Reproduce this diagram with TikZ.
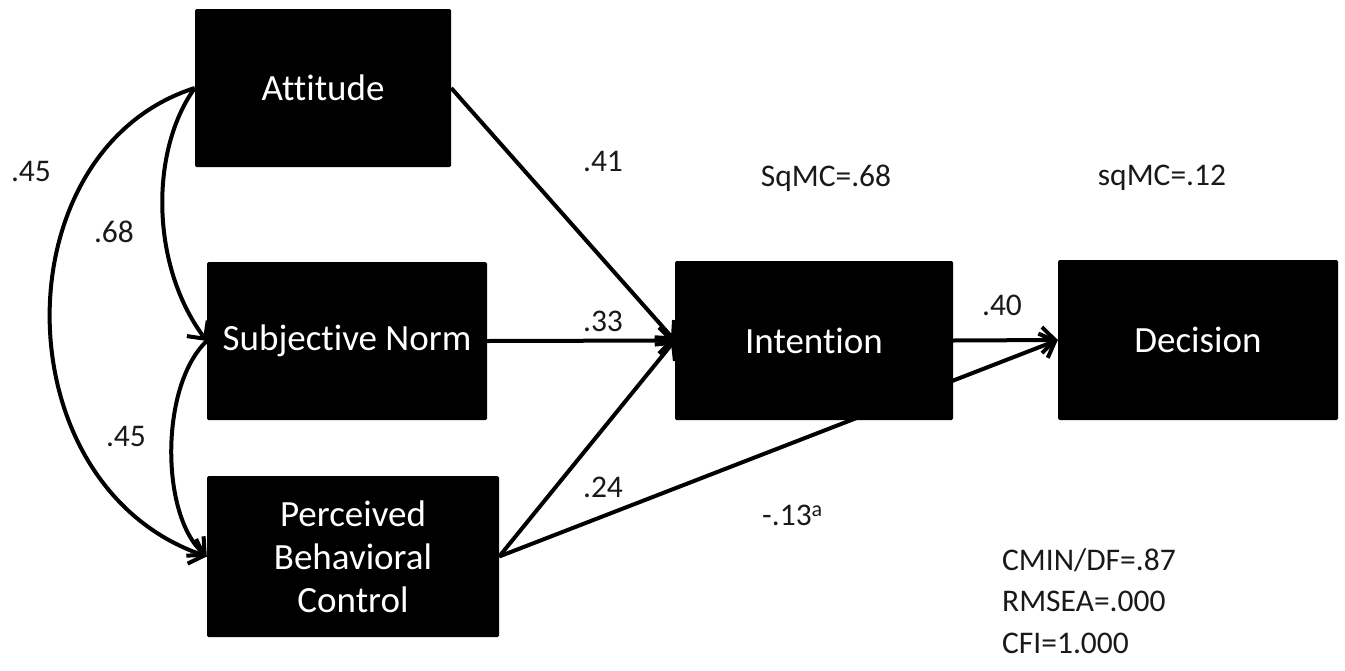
\documentclass[tikz,border=0pt]{standalone}
\usepackage{fontspec}
\setmainfont[Ligatures={NoCommon}]{Carlito}
\usetikzlibrary{arrows.meta,backgrounds}
\begin{document}
\begin{tikzpicture}[x=1pt,y=-1pt,
  box/.style={fill=black,draw=none,rounded corners=1.5pt,text=white,align=center,
    font=\fontsize{37}{43}\selectfont,inner sep=0pt},
  lbl/.style={font=\fontsize{31.5}{38}\selectfont,text=black!90,inner sep=0pt},
  tip/.style={-{Straight Barb[length=13pt,width=26pt,line width=4pt]}},
  path/.style={line width=4pt,tip},
  cor/.style={line width=4pt},
]
\useasboundingbox (0,0) rectangle (1345,670);
\node[box,minimum width=256pt,minimum height=158pt] (att) at (323,88) {Attitude};
\node[box,minimum width=280pt,minimum height=158pt] (sn) at (347,341) {Subjective Norm};
\node[box,minimum width=292pt,minimum height=161pt] (pbc) at (353,556.5) {Perceived\\Behavioral\\Control};
\node[box,minimum width=278pt,minimum height=159pt] (int) at (814,340.5) {Intention};
\node[box,minimum width=280pt,minimum height=160pt] (dec) at (1198,340) {Decision};
\begin{scope}[on background layer]
\draw[path] (pbc.east) -- (dec.west);
\end{scope}
\draw[path] (att.east) -- (int.west);
\draw[path] (sn.east) -- (int.west);
\draw[path] (pbc.east) -- (int.west);
\draw[path] (int.east) -- (dec.west);
\draw[cor,tip] (att.west) .. controls (0,150) and (0,485) .. (pbc.west);
\draw[cor,tip] (att.west) .. controls (150,150) and (150,265) .. (sn.west);
\draw[cor,tip] (sn.west) .. controls (160,385) and (160,515) .. (pbc.west);
\node[lbl] (l1) at (31,172) {.45};
\node[lbl] (l2) at (114,232) {.68};
\node[lbl] (l3) at (126,437) {.45};
\node[lbl] (l4) at (603,161) {.41};
\node[lbl] (l5) at (603,321) {.33};
\node[lbl] (l6) at (603,487) {.24};
\node[lbl,anchor=west] (l7) at (762,515) {-.13\textsuperscript{a}};
\node[lbl] (l8) at (1002,305) {.40};
\node[lbl] (l9) at (826,178) {SqMC=.68};
\node[lbl] (l10) at (1162,178) {sqMC=.12};
\node[lbl,anchor=north west,align=left,font=\fontsize{31.5}{41.5}\selectfont] (fit) at (1002,548) {CMIN/DF=.87\\RMSEA=.000\\CFI=1.000};
\end{tikzpicture}
\end{document}
